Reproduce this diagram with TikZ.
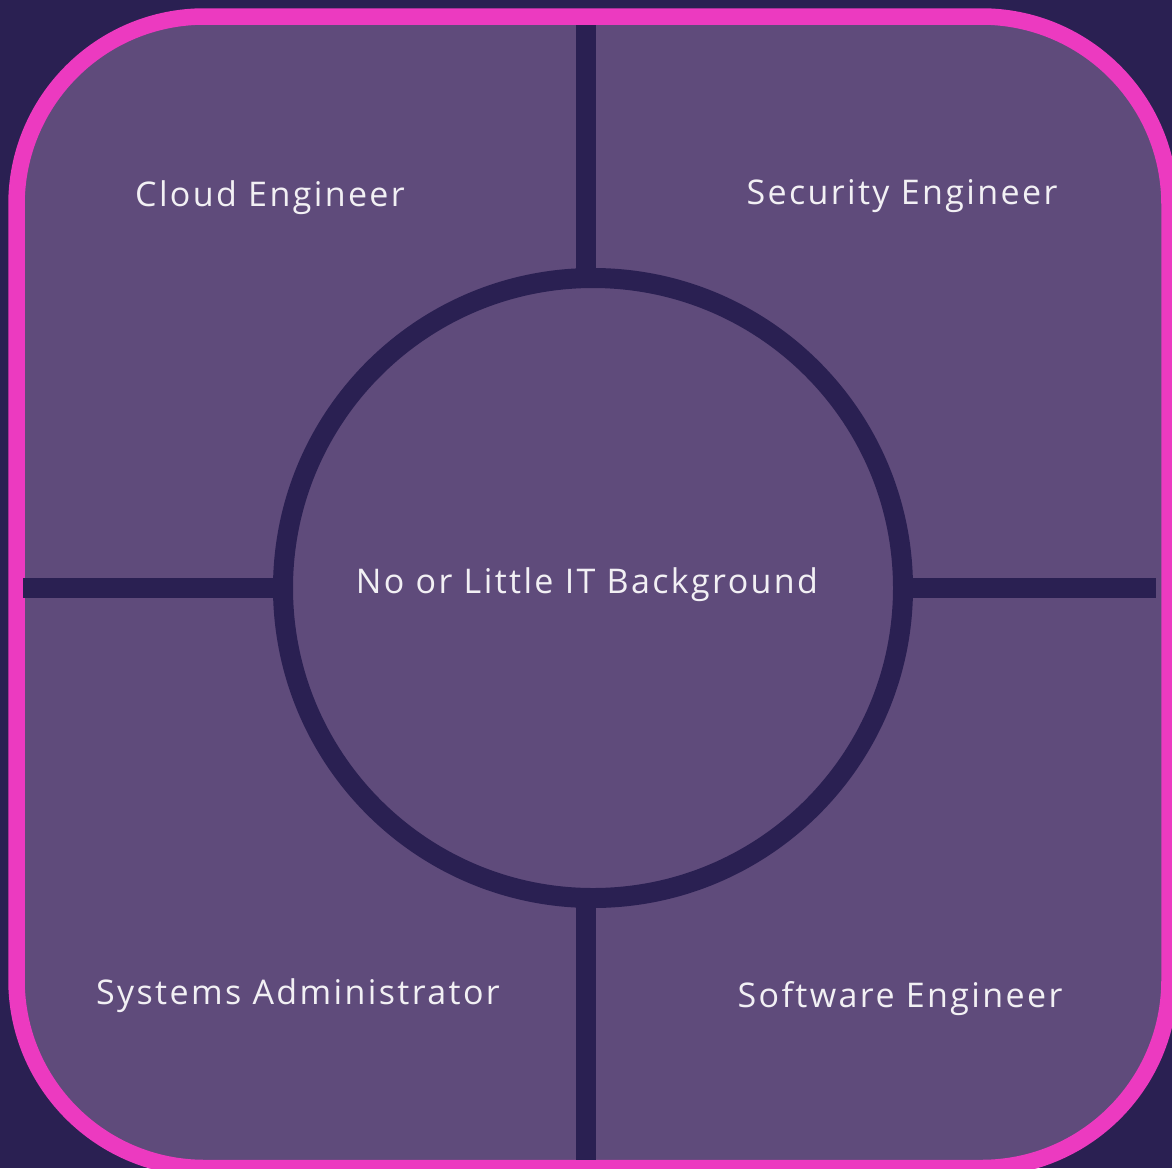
\documentclass[tikz,border=0pt]{standalone}
\usepackage{fontspec}
\setmainfont{Open Sans}[LetterSpace=7]
\definecolor{bgnavy}{HTML}{2A2052}
\definecolor{panel}{HTML}{5F4B7B}
\definecolor{pinkline}{HTML}{EC3AC0}
\definecolor{txt}{HTML}{F2F0F4}
\begin{document}
\begin{tikzpicture}[x=1pt,y=-1pt,
  divider/.style={draw=bgnavy,line width=19.5pt},
  label/.style={text=txt,font=\fontsize{34}{40}\selectfont,inner sep=0pt}]
\useasboundingbox (0,0) rectangle (1172,1168);
\fill[bgnavy] (0,0) rectangle (1172,1168);
\clip (0,0) rectangle (1172,1168);
\draw[pinkline,fill=panel,line width=16.5pt,rounded corners=188pt] (16.5,16.5) rectangle (1169.5,1168);
% circle
\node[circle,draw=bgnavy,line width=20pt,minimum size=620pt,inner sep=0pt] (hub) at (593,588) {};
% dividers
\coordinate (topend) at (586,25);
\coordinate (botend) at (586,1160);
\coordinate (leftend) at (23,588);
\coordinate (rightend) at (1156,588);
\draw[divider] (topend) -- (586,278);
\draw[divider] (586,898) -- (botend);
\draw[divider] (leftend) -- (283,588);
\draw[divider] (903,588) -- (rightend);
% labels
\node[label] (center) at (587,585) {No or Little IT Background};
\node[label] (cloud) at (270,198) {Cloud Engineer};
\node[label] (security) at (902,196) {Security Engineer};
\node[label] (sysadmin) at (298,996) {Systems Administrator};
\node[label] (software) at (900,999) {Software Engineer};
\end{tikzpicture}
\end{document}
